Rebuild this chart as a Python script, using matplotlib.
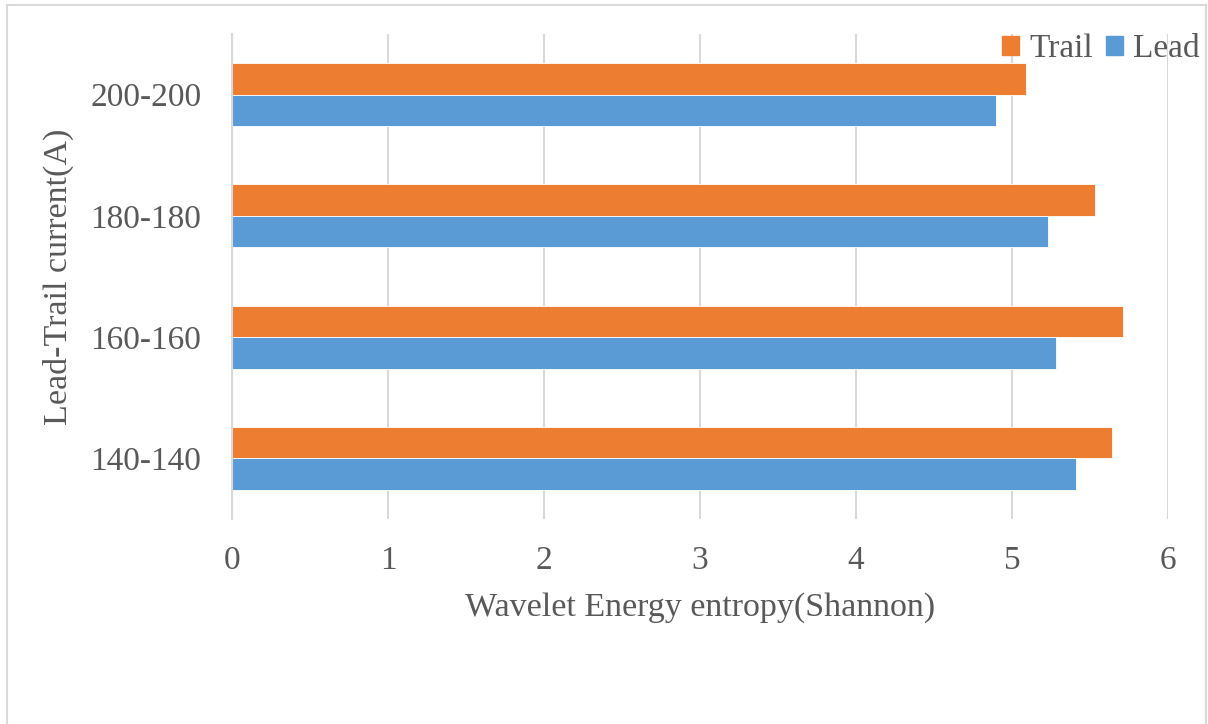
import matplotlib
matplotlib.use("Agg")
import matplotlib.pyplot as plt
from matplotlib.lines import Line2D
import numpy as np

# Data
categories = ["140-140", "160-160", "180-180", "200-200"]
lead_values = [5.41, 5.28, 5.23, 4.90]
trail_values = [5.64, 5.71, 5.53, 5.09]
x_ticks = [0, 1, 2, 3, 4, 5, 6]

LEAD_COLOR = "#5B9BD5"
TRAIL_COLOR = "#ED7D31"
TEXT_COLOR = "#595959"
GRID_COLOR = "#D9D9D9"

plt.rcParams["font.family"] = ["Liberation Serif", "DejaVu Serif"]

W, H = 1208, 724
fig = plt.figure(figsize=(W / 100, H / 100), dpi=100)
ax = fig.add_axes([232 / W, 1 - 519 / H, (1168 - 232) / W, (519 - 34) / H])

y = np.arange(len(categories))
bar_h = 0.26
ax.barh(y + bar_h / 2, trail_values, height=bar_h, color=TRAIL_COLOR,
        edgecolor="white", linewidth=0.6, label="Trail", zorder=3)
ax.barh(y - bar_h / 2, lead_values, height=bar_h, color=LEAD_COLOR,
        edgecolor="white", linewidth=0.6, label="Lead", zorder=3)

ax.set_xlim(0, 6)
ax.set_ylim(-0.5, len(categories) - 0.5)
ax.set_xticks(x_ticks)
ax.set_xticklabels([str(t) for t in x_ticks])
ax.set_yticks(y)
ax.set_yticklabels(categories)

ax.grid(axis="x", color=GRID_COLOR, linewidth=1.5, zorder=0)
for s in ["top", "right", "bottom"]:
    ax.spines[s].set_visible(False)
ax.spines["left"].set_color(GRID_COLOR)
ax.spines["left"].set_linewidth(1.5)
ax.spines["left"].set_zorder(4)

ax.tick_params(axis="both", length=0, colors=TEXT_COLOR, labelsize=24)
ax.tick_params(axis="x", pad=19)
ax.tick_params(axis="y", pad=22)

ax.set_xlabel("Wavelet Energy entropy(Shannon)", fontsize=24.5, color=TEXT_COLOR, labelpad=12)
ax.set_ylabel("Lead-Trail current(A)", fontsize=24.5, color=TEXT_COLOR, labelpad=12)

handles = [plt.Rectangle((0, 0), 1, 1, color=TRAIL_COLOR),
           plt.Rectangle((0, 0), 1, 1, color=LEAD_COLOR)]
leg = fig.legend(handles, ["Trail", "Lead"], loc="upper right",
                 bbox_to_anchor=(1206 / W, 1 - 27 / H), ncol=2, frameon=False,
                 fontsize=24, handlelength=0.5, handleheight=0.5,
                 handletextpad=0.3, columnspacing=0.4, borderaxespad=0,
                 borderpad=0.2)
for t in leg.get_texts():
    t.set_color(TEXT_COLOR)

# Outer chart frame
for xs, ys in [((7, 7), (724, 5)), ((7, 1206), (5, 5)), ((1206, 1206), (5, 724))]:
    fig.add_artist(Line2D([x / W for x in xs], [1 - v / H for v in ys],
                          color=GRID_COLOR, linewidth=1.5))

fig.savefig("out.png", dpi=100, facecolor="white")
